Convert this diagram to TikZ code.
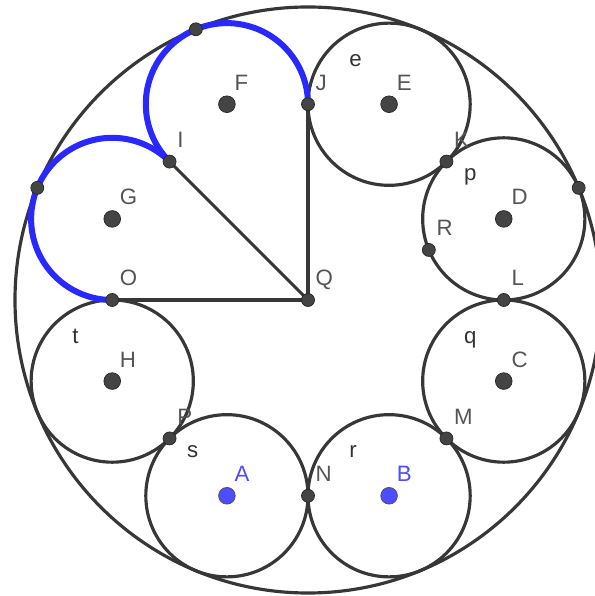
\documentclass[tikz,border=0pt]{standalone}
\usepackage{fontspec}
\setmainfont{Liberation Sans}
\usetikzlibrary{calc}

\definecolor{ggline}{RGB}{55,55,55}
\definecolor{ggpt}{RGB}{68,68,68}
\definecolor{ggblue}{RGB}{40,40,255}
\definecolor{ggptblue}{RGB}{77,77,255}
\definecolor{gglbl}{RGB}{85,85,85}

% ring radius, small radius, big radius, tangent-point radius
\newcommand{\Rc}{211.9}
\newcommand{\rr}{81.1}
\newcommand{\RR}{293}
\newcommand{\Rt}{195.77}

\begin{document}
\begin{tikzpicture}[
    x=0.03cm, y=0.03cm,
    font=\fontsize{19}{21}\selectfont,
    circ/.style={draw=ggline, line width=0.095cm},
    arcb/.style={draw=ggblue, line width=0.18cm, line cap=round},
    cpt/.style={circle, fill=ggpt, draw=black!85, line width=0.6pt, inner sep=0pt, minimum size=0.5cm},
    tpt/.style={cpt, minimum size=0.39cm},
    bpt/.style={cpt, fill=ggptblue, draw=black!70},
    lbl/.style={anchor=base west, inner sep=0pt, text=gglbl},
    clbl/.style={lbl, text=black!80}
  ]
  \fill[white] (-308,-296) rectangle (286,300);
  \useasboundingbox (-308,-296) rectangle (286,300);

  % centres
  \coordinate (Q) at (0,0);
  \coordinate (D) at (22.5:\Rc);
  \coordinate (E) at (67.5:\Rc);
  \coordinate (F) at (112.5:\Rc);
  \coordinate (G) at (157.5:\Rc);
  \coordinate (H) at (202.5:\Rc);
  \coordinate (A) at (247.5:\Rc);
  \coordinate (B) at (292.5:\Rc);
  \coordinate (C) at (337.5:\Rc);
  % tangent points
  \coordinate (L) at (0:\Rt);
  \coordinate (K) at (45:\Rt);
  \coordinate (J) at (90:\Rt);
  \coordinate (I) at (135:\Rt);
  \coordinate (O) at (180:\Rt);
  \coordinate (P) at (225:\Rt);
  \coordinate (N) at (270:\Rt);
  \coordinate (M) at (315:\Rt);
  \coordinate (R) at (22.5:130.8);
  \coordinate (T1) at (112.5:\RR);
  \coordinate (T2) at (157.5:\RR);
  \coordinate (T3) at (22.5:\RR);

  \draw[circ] (Q) circle[radius=\RR];
  \foreach \c in {A,B,C,D,E,H}
    \draw[circ] (\c) circle[radius=\rr];

  \draw[arcb] (J) arc[start angle=0, end angle=225, radius=\rr];
  \draw[arcb] (I) arc[start angle=45, end angle=270, radius=\rr];

  \draw[circ] (O) -- (Q) -- (J);
  \draw[circ] (Q) -- (I);

  \foreach \p in {C,D,E,F,G,H}
    \node[cpt] (pt\p) at (\p) {};
  \foreach \p in {A,B}
    \node[bpt] (pt\p) at (\p) {};
  \foreach \p in {I,J,K,L,M,N,O,P,Q,R,T1,T2,T3}
    \node[tpt] (pt\p) at (\p) {};

  \foreach \p in {C,D,E,F,G,H,I,J,K,L,M,N,O,P,Q,R}
    \node[lbl] (lbl\p) at ($(\p)+(7.5,14)$) {\p};
  \foreach \p in {A,B}
    \node[lbl, text=ggptblue] (lbl\p) at ($(\p)+(7.5,14)$) {\p};

  \foreach \c/\t in {E/e,D/p,C/q,B/r,A/s,H/t}
    \node[clbl] (name\t) at ($(\c)+(-40,38)$) {\t};
\end{tikzpicture}
\end{document}
